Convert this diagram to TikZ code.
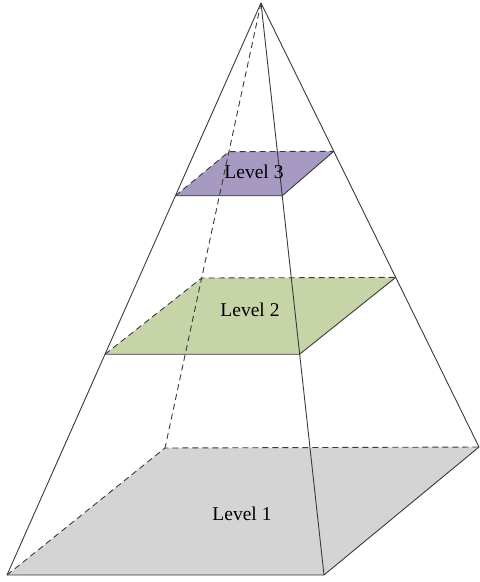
\documentclass[tikz,border=0pt]{standalone}
\usepackage{fontspec}
\setmainfont{Liberation Serif}
\usetikzlibrary{calc}
\definecolor{edgegray}{HTML}{3A3A3A}
\definecolor{lvlone}{HTML}{D4D4D4}
\definecolor{lvltwo}{HTML}{C6D4A8}
\definecolor{lvlthree}{HTML}{A79AC2}
\tikzset{
  edge/.style={draw=edgegray, line width=0.9pt, line join=round},
  hidden/.style={edge, dash pattern=on 6pt off 4pt},
  lbl/.style={font=\fontsize{19.5}{21}\selectfont, text=black, inner sep=0pt}
}
\begin{document}
\begin{tikzpicture}[x=1pt, y=-1pt]
\useasboundingbox (0,0) rectangle (480,582);
% apex and base corners
\coordinate (T)  at (261,3);
\coordinate (FL) at (7,575);
\coordinate (FR) at (324,575);
\coordinate (BL) at (165,448);
\coordinate (BR) at (479,447);
% level 2 cross-section
\coordinate (FL2) at ($(T)!0.614!(FL)$);
\coordinate (FR2) at ($(T)!0.614!(FR)$);
\coordinate (BL2) at ($(T)!0.618!(BL)$);
\coordinate (BR2) at ($(T)!0.618!(BR)$);
% level 3 cross-section
\coordinate (FL3) at ($(T)!0.337!(FL)$);
\coordinate (FR3) at ($(T)!0.337!(FR)$);
\coordinate (BL3) at ($(T)!0.334!(BL)$);
\coordinate (BR3) at ($(T)!0.334!(BR)$);
% filled planes
\fill[lvlone]   (FL) -- (FR) -- (BR) -- (BL) -- cycle;
\fill[lvltwo]   (FL2) -- (FR2) -- (BR2) -- (BL2) -- cycle;
\fill[lvlthree] (FL3) -- (FR3) -- (BR3) -- (BL3) -- cycle;
% plane outlines: back sides hidden
\draw[hidden] (FL) -- (BL) -- (BR);
\draw[edge]   (FL) -- (FR) -- (BR);
\draw[hidden] (FL2) -- (BL2) -- (BR2);
\draw[edge]   (FL2) -- (FR2) -- (BR2);
\draw[hidden] (FL3) -- (BL3) -- (BR3);
\draw[edge]   (FL3) -- (FR3) -- (BR3);
% lateral edges
\draw[edge]   (T) -- (FL);
\draw[edge]   (T) -- (FR);
\draw[edge]   (T) -- (BR);
\draw[hidden] (T) -- (BL);
% labels
\node[lbl] (l3) at (254,172) {Level 3};
\node[lbl] (l2) at (250,310) {Level 2};
\node[lbl] (l1) at (242,514) {Level 1};
\end{tikzpicture}
\end{document}
